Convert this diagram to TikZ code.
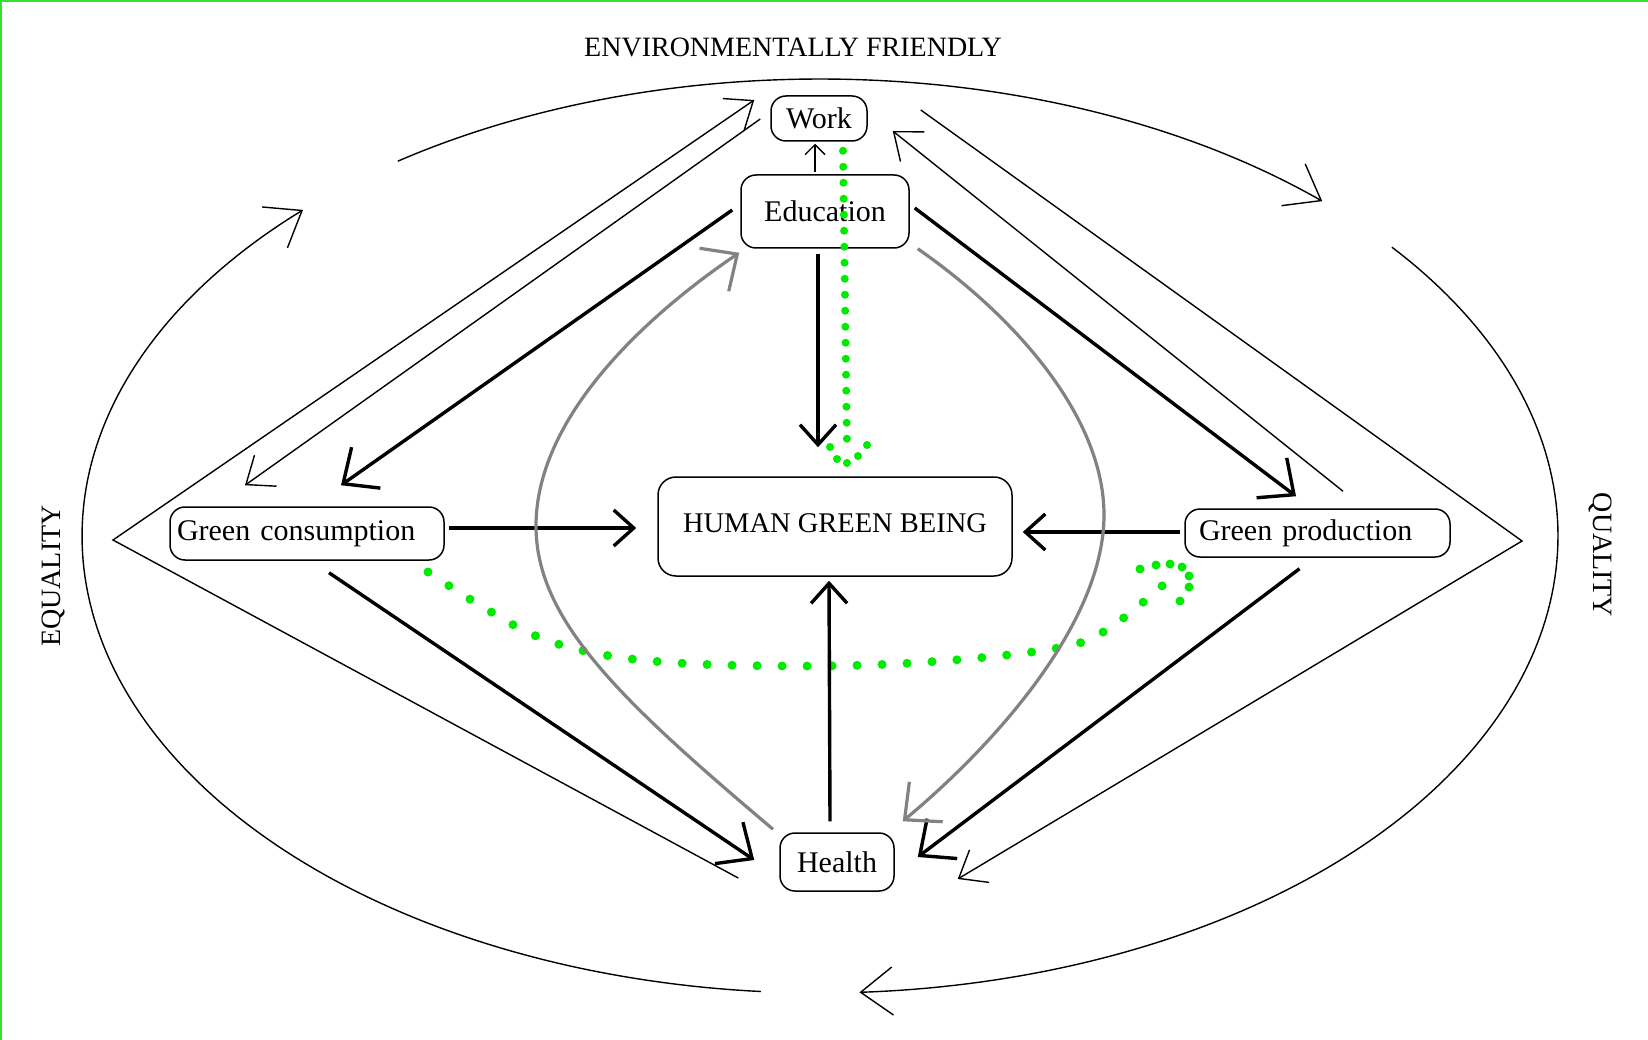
\documentclass[tikz,border=0pt]{standalone}
\usepackage{fontspec}
\setmainfont{Liberation Serif}
\usetikzlibrary{arrows.meta,calc}
\definecolor{dotgreen}{RGB}{0,235,0}
\definecolor{framegreen}{RGB}{50,225,50}
\definecolor{curvegray}{RGB}{130,130,130}
\begin{document}
\begin{tikzpicture}[x=1pt,y=-1pt,
  box/.style={draw, line width=1.5pt, rounded corners=15pt, inner sep=0pt, font=\fontsize{30}{36}\selectfont},
  label/.style={inner sep=0pt, font=\fontsize{28}{34}\selectfont},
  thinline/.style={line width=1.4pt},
  thinarr/.style={line width=1.4pt, -{Straight Barb[length=24pt,width=38pt]}},
  ringarr/.style={line width=1.4pt, -{Straight Barb[length=32pt,width=48pt]}},
  smallarr/.style={line width=1.4pt, -{Straight Barb[length=10pt,width=20pt]}},
  thickarr/.style={line width=3.4pt, -{Straight Barb[length=28pt,width=50pt]}},
  shortarr/.style={line width=3.4pt, -{Straight Barb[length=20pt,width=36pt]}},
  grayarr/.style={line width=3.2pt, draw=curvegray, -{Straight Barb[length=28pt,width=52pt]}},
  greendots/.style={draw=dotgreen, line width=8pt, line cap=round, dash pattern=on 0pt off 16pt},
  greendotsb/.style={draw=dotgreen, line width=9pt, line cap=round, dash pattern=on 0pt off 25pt},
  gdot/.style={fill=dotgreen}
]
\useasboundingbox (0,0) rectangle (1648,1040);
\fill[white] (0,0) rectangle (1648,1040);
\draw[framegreen, line width=2pt] (0,1) -- (1648,1);
\draw[framegreen, line width=2pt] (1,0) -- (1,1040);

% text labels
\node[label] (title) at (793,47) {ENVIRONMENTALLY FRIENDLY};
\node[label, rotate=90] (equality) at (53,576) {EQUALITY};
\node[label, rotate=-90] (quality) at (1600,555) {QUALITY};

% boxes
\node[box, minimum width=96pt, minimum height=45pt] (work) at (819,118.5) {Work};
\node[box, minimum width=168pt, minimum height=73pt] (edu) at (825,211.5) {Education};
\node[box, minimum height=53pt, text width=260pt, align=left, inner xsep=7pt] (gc) at (307,533.5) {Green consumption};
\node[box, minimum height=48pt, text width=237pt, align=left, inner xsep=14pt] (gp) at (1317.5,533) {Green production};
\node[box, minimum width=354pt, minimum height=99pt, rounded corners=18pt, text depth=7pt, font=\fontsize{28.5}{34}\selectfont] (hgb) at (835,526.5) {HUMAN GREEN BEING};
\node[box, minimum width=114pt, minimum height=58pt] (health) at (837,862) {Health};

% outer ring
\draw[ringarr] plot[domain=0:1, samples=100] ({820+738*cos(124.9-77.9*\x)}, {536-457*sin(124.9-77.9*\x)});
\draw[ringarr] plot[domain=0:1, samples=120] ({820+738*cos(39.2-126.3*\x)}, {536-457*sin(39.2-126.3*\x)});
\draw[ringarr] plot[domain=0:1, samples=120] ({820+738*cos(265.4-131.1*\x)}, {536-457*sin(265.4-131.1*\x)});

% triangles
\coordinate (apexL) at (113,540);
\coordinate (apexR) at (1522,541);
\draw[thinarr] ($(health.west)+(-41,16)$) -- (apexL) -- ($(work.west)+(-16,-18.5)$);
\draw[thinarr] ($(work.west)+(-10,0.5)$) -- ($(gc.north)+(-62,-21)$);
\draw[thinarr] ($(work.east)+(53,-8.5)$) -- (apexR) -- ($(health.east)+(63,17)$);
\draw[thinarr] ($(gp.north)+(25.5,-17)$) -- ($(work.east)+(25,12.5)$);

% green dotted paths
\draw[greendots] ($(work.south)+(24,9)$) -- ($(hgb.north)+(12,-29)$);
\foreach \p in {(830,447),(837,459),(847,463),(858,456),(867,445)}
  \fill[gdot] \p circle (4pt);
\draw[greendotsb] plot[smooth, tension=0.6] coordinates {(428,572) (478,604) (536,636) (599,654) (678,663) (788,666) (893,664) (998,656) (1072,645) (1108,629) (1147,599) (1163,585)};
\foreach \p in {(1140,569),(1156,565),(1170,564),(1182,567),(1189,576),(1189,587),(1180,601)}
  \fill[gdot] \p circle (4.5pt);

% black connectors
\draw[thickarr] ($(edu.west)+(-8,-1.5)$) -- ($(gc.north)+(34,-21)$);
\draw[thickarr] ($(edu.east)+(5,-3.5)$) -- ($(gp.north)+(-21.5,-12)$);
\draw[shortarr] ($(edu.south)+(-7,5)$) -- ($(hgb.north)+(-17,-29)$);
\draw[smallarr] ($(edu.north)+(-10,-2)$) -- ($(work.south)+(-4,2)$);
\draw[shortarr] ($(gc.east)+(4,-5.5)$) -- ($(hgb.west)+(-21,1.5)$);
\draw[shortarr] ($(gp.west)+(-4,-1)$) -- ($(hgb.east)+(10,5.5)$);
\draw[shortarr] ($(health.north)+(-7,-11)$) -- ($(hgb.south)+(-6,4)$);
\draw[thickarr] ($(gc.south)+(22,12)$) -- ($(health.west)+(-25,-2)$);
\draw[thickarr] ($(gp.south)+(-18,11)$) -- ($(health.east)+(23,-5)$);

% gray curves
\draw[grayarr] ($(health.north)+(-64,-3)$) .. controls (620,700) and (536,620) .. (536,526) .. controls (536,420) and (640,320) .. ($(edu.south west)+(-1,4)$);
\draw[grayarr] ($(edu.south east)+(8,0)$) .. controls (1020,320) and (1104,420) .. (1104,515) .. controls (1104,620) and (1000,740) .. ($(health.north east)+(8,-11)$);
\end{tikzpicture}
\end{document}
